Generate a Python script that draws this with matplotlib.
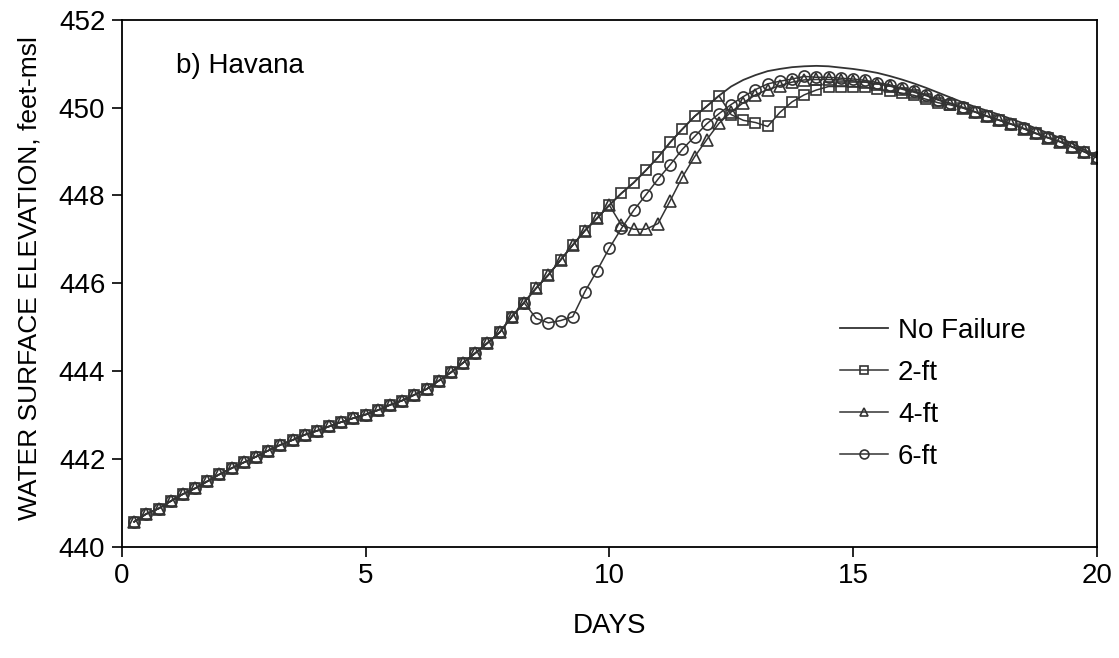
import numpy as np
import matplotlib
matplotlib.use("Agg")
import matplotlib.pyplot as plt

plt.rcParams['font.family'] = ['Liberation Sans', 'DejaVu Sans']

# days, one value every 6 hours
days = np.arange(0.25, 20.01, 0.25)

# common part of all runs, day 0.25 .. 8.25
common = [440.57, 440.75, 440.87, 441.04, 441.20, 441.33, 441.49, 441.65, 441.79,
          441.92, 442.05, 442.19, 442.32, 442.43, 442.55, 442.64, 442.74, 442.84,
          442.93, 443.01, 443.11, 443.23, 443.33, 443.46, 443.59, 443.78, 443.97,
          444.19, 444.41, 444.64, 444.88, 445.24, 445.56]

# no failure / 2-ft, day 8.5 .. 12.25
upper = [445.89, 446.19, 446.53, 446.87, 447.20, 447.48, 447.78, 448.05, 448.29,
         448.57, 448.87, 449.21, 449.51, 449.80, 450.03, 450.27]

# day 12.5 .. 20
nf_tail = [450.48, 450.63, 450.74, 450.83, 450.88, 450.92, 450.94, 450.95, 450.94,
           450.91, 450.88, 450.84, 450.79, 450.72, 450.64, 450.55, 450.45, 450.34,
           450.23, 450.12, 450.02, 449.93, 449.84, 449.74, 449.64, 449.53, 449.42,
           449.31, 449.18, 449.04, 448.90]

ft2_tail = [449.84, 449.71, 449.66, 449.57, 449.89, 450.13, 450.29, 450.40, 450.48,
            450.48, 450.48, 450.47, 450.42, 450.37, 450.33, 450.28, 450.19, 450.11,
            450.06, 449.99, 449.90, 449.80, 449.71, 449.62, 449.52, 449.41, 449.31,
            449.22, 449.10, 448.99, 448.86]

# day 10.25 .. 20
ft4_tail = [447.32, 447.23, 447.23, 447.36, 447.88, 448.42, 448.88, 449.27, 449.64,
            449.90, 450.11, 450.29, 450.41, 450.50, 450.58, 450.63, 450.64, 450.64,
            450.63, 450.61, 450.58, 450.54, 450.49, 450.42, 450.35, 450.27, 450.17,
            450.09, 450.00, 449.90, 449.80, 449.71, 449.62, 449.52, 449.41, 449.31,
            449.22, 449.10, 448.99, 448.86]

# day 8.5 .. 20
ft6_tail = [445.20, 445.10, 445.15, 445.24, 445.81, 446.29, 446.80, 447.25, 447.66,
            448.01, 448.37, 448.70, 449.05, 449.34, 449.63, 449.86, 450.07, 450.25,
            450.41, 450.54, 450.60, 450.65, 450.71, 450.69, 450.69, 450.67, 450.65,
            450.62, 450.57, 450.52, 450.44, 450.37, 450.29, 450.18, 450.10, 450.01,
            449.91, 449.81, 449.72, 449.63, 449.53, 449.42, 449.32, 449.23, 449.11,
            449.00, 448.87]

no_failure = common + upper + nf_tail
ft2 = common + upper + ft2_tail
ft4 = common + upper[:7] + ft4_tail
ft6 = common + ft6_tail

c = '#333333'
fs = 20
fig = plt.figure(figsize=(11.19, 6.58), dpi=100)
ax = fig.add_axes([0.109, 0.169, 0.871, 0.801])

ax.plot(days, no_failure, color=c, lw=1.3, label='No Failure')
ax.plot(days, ft2, color=c, lw=1.1, marker='s', ms=7.5, mfc='none', mew=1.2, label='2-ft')
ax.plot(days, ft4, color=c, lw=1.1, marker='^', ms=8, mfc='none', mew=1.2, label='4-ft')
ax.plot(days, ft6, color=c, lw=1.1, marker='o', ms=8, mfc='none', mew=1.2, label='6-ft')

ax.set_xlim(0, 20)
ax.set_ylim(440, 452)
ax.set_xticks([0, 5, 10, 15, 20])
ax.set_yticks(range(440, 453, 2))
ax.tick_params(direction='out', length=7, width=1.2, labelsize=fs, pad=5,
               top=False, right=False)
for s in ax.spines.values():
    s.set_linewidth(1.3)

ax.set_xlabel('DAYS', fontsize=fs, labelpad=17)
ax.set_ylabel('WATER SURFACE ELEVATION, feet-msl', fontsize=19)
ax.yaxis.set_label_coords(-0.083, 0.51)
ax.text(1.1, 450.95, 'b) Havana', fontsize=fs, va='center')

ax.legend(loc='upper left', bbox_to_anchor=(0.725, 0.455), frameon=False, fontsize=fs,
          handlelength=1.75, markerscale=0.8, labelspacing=0.57, handletextpad=0.35,
          borderaxespad=0)

fig.savefig('out.png', dpi=100)
